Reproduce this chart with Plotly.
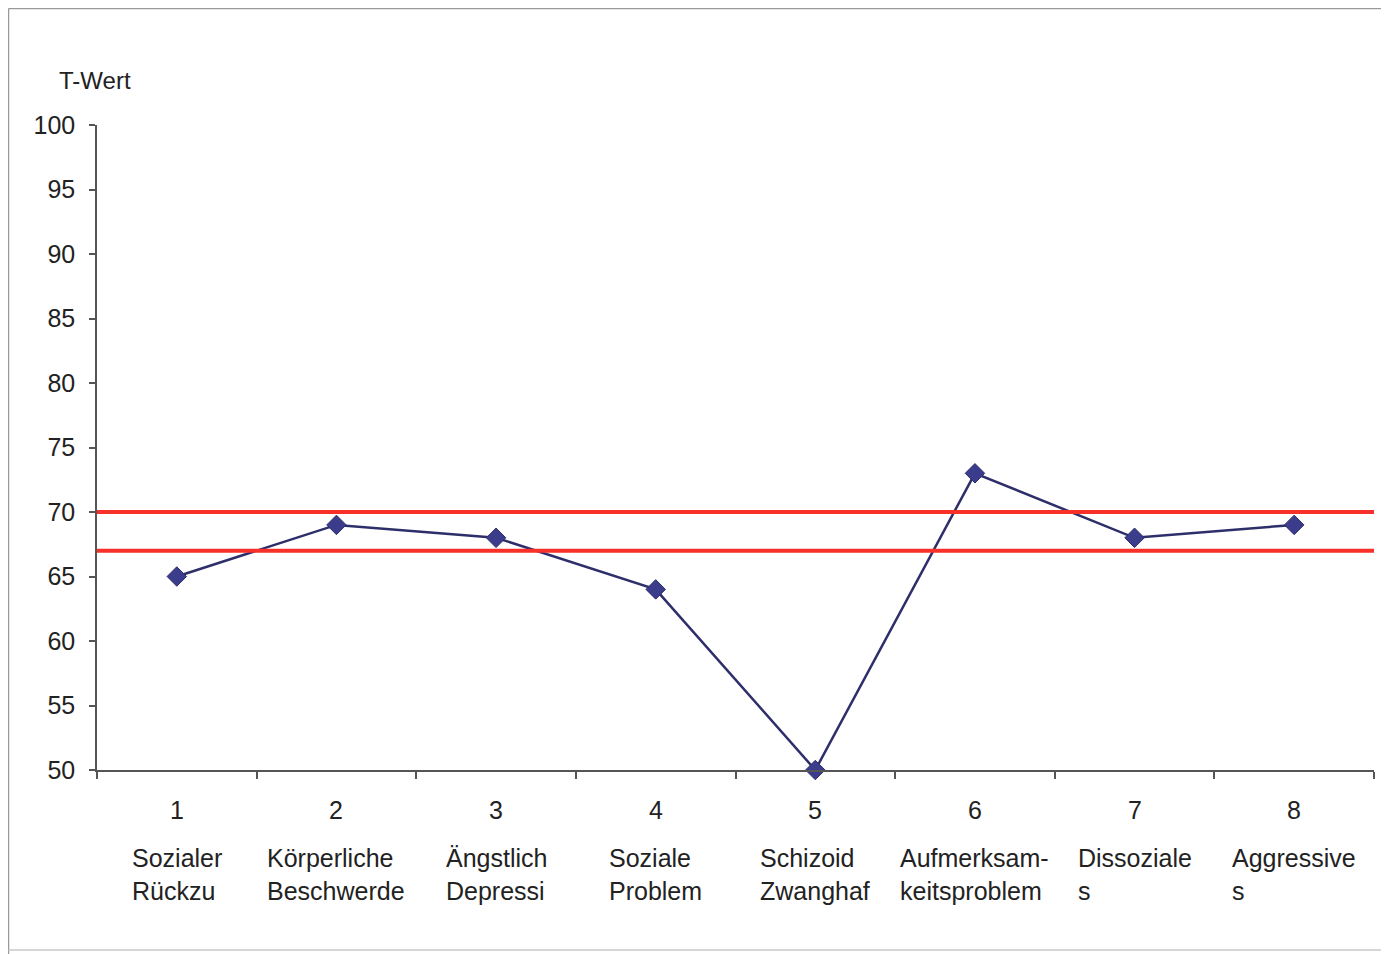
import plotly.graph_objects as go

# Data
category_numbers = ["1", "2", "3", "4", "5", "6", "7", "8"]
category_names = [
    "Sozialer<br>Rückzu",
    "Körperliche<br>Beschwerde",
    "Ängstlich<br>Depressi",
    "Soziale<br>Problem",
    "Schizoid<br>Zwanghaf",
    "Aufmerksam-<br>keitsproblem",
    "Dissoziale<br>s",
    "Aggressive<br>s",
]
t_values = [65, 69, 68, 64, 50, 73, 68, 69]
thresholds = [70, 67]
y_ticks = [50, 55, 60, 65, 70, 75, 80, 85, 90, 95, 100]

OFF = 8  # page body margin
W, H = 1389 - OFF, 954 - OFF
L, R, T, B = 97 - OFF, 15, 125 - OFF, 184
FONT = "Liberation Sans, Arial, sans-serif"
TXT = "#222222"

x_pos = list(range(1, len(category_numbers) + 1))
boundaries = [i + 0.5 for i in range(0, len(category_numbers) + 1)]

pw = W - L - R
ph = H - T - B

def py_paper(py):
    return (H - B - (py - OFF)) / ph

def px_paper(px):
    return (px - OFF - L) / pw

fig = go.Figure()

# outer frame: left, top and bottom edges
frame = dict(color="#9a9a9a", width=1.5)
fig.add_shape(type="line", xref="paper", yref="paper",
              x0=px_paper(8.5), x1=px_paper(8.5), y0=py_paper(954), y1=py_paper(8.5), line=frame)
fig.add_shape(type="line", xref="paper", yref="paper",
              x0=px_paper(8.5), x1=px_paper(1400), y0=py_paper(8.5), y1=py_paper(8.5), line=frame)
fig.add_shape(type="line", xref="paper", yref="paper",
              x0=px_paper(8.5), x1=px_paper(1400), y0=py_paper(950), y1=py_paper(950),
              line=dict(color="#c8c8c8", width=1.5))

for th in thresholds:
    fig.add_hline(y=th, line=dict(color="#F8302A", width=4), layer="above")

fig.add_trace(go.Scatter(
    x=x_pos, y=t_values, mode="lines+markers",
    line=dict(color="#2E2E6B", width=2.5),
    marker=dict(symbol="diamond", size=15, color="#3C3C8C",
                line=dict(color="#2E2E6B", width=1)),
    showlegend=False, cliponaxis=False,
))

annotations = []
for xp, num, name in zip(x_pos, category_numbers, category_names):
    annotations.append(dict(x=xp, y=py_paper(810), xref="x", yref="paper",
                            text=num, showarrow=False, xanchor="center",
                            yanchor="middle", font=dict(size=25, color=TXT, family=FONT)))
    annotations.append(dict(x=xp, y=py_paper(874), xref="x", yref="paper",
                            text=name, showarrow=False, xanchor="center",
                            yanchor="middle", align="left",
                            font=dict(size=25, color=TXT, family=FONT)))
annotations.append(dict(x=px_paper(57), y=py_paper(80), xref="paper", yref="paper",
                        text="T-Wert", showarrow=False, xanchor="left", yanchor="middle",
                        font=dict(size=24, color=TXT, family=FONT)))

fig.update_layout(
    width=W, height=H,
    margin=dict(l=L, r=R, t=T, b=B),
    paper_bgcolor="white", plot_bgcolor="white",
    annotations=annotations,
)

fig.update_xaxes(
    range=[0.5, 8.5], showgrid=False, zeroline=False,
    showline=True, linecolor="#555555", linewidth=1.5,
    tickmode="array", tickvals=boundaries, ticktext=[""] * len(boundaries),
    ticks="outside", ticklen=7, tickcolor="#555555", tickwidth=1.5,
)
fig.update_yaxes(
    range=[50, 100], showgrid=False, zeroline=False,
    showline=True, linecolor="#555555", linewidth=1.5,
    tickmode="array", tickvals=y_ticks,
    ticks="outside", ticklen=6, tickcolor="#555555", tickwidth=1.5,
    ticklabelstandoff=9,
    tickfont=dict(size=25, color=TXT, family=FONT),
)

fig.write_html("out.html")
